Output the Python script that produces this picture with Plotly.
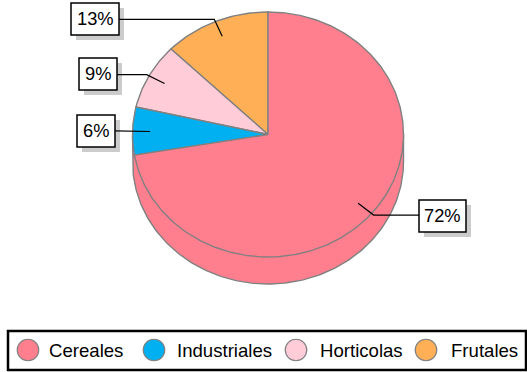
import numpy as np
import plotly.graph_objects as go

categories = ["Cereales", "Industriales", "Horticolas", "Frutales"]
values = [72.3, 6.3, 8.7, 12.7]
colors = ["#FF7F8F", "#00B0F0", "#FFCCD8", "#FFB056"]
EDGE = "#808080"
FONT = "Liberation Sans, Arial, sans-serif"
CX, CY, RX, RY, DEPTH = 268, 134.5, 135.5, 122.5, 27
# label box [x0, y0, x1, y1] for each category
boxes = [(419, 200, 466, 232), (77, 115, 115, 147), (79, 58, 117, 90), (71, 3, 119, 35)]
legend_marker_x = [28, 154, 296, 426]
legend_text_x = [49, 177, 320, 451]
LEGEND_Y = 350


def pt(frac, r=1.0, dy=0):
    a = 2 * np.pi * np.asarray(frac)   # counter-clockwise from 12 o'clock
    return CX - r * RX * np.sin(a), CY + dy - r * RY * np.cos(a)


fig = go.Figure()

# side wall: front half of the lower rim plus the straight sides
t = np.linspace(0.25, 0.75, 181)
x, y = pt(t, dy=DEPTH)
tx, ty = pt(0.25)
ux, uy = pt(0.75)
fig.add_trace(go.Scatter(x=[tx, *x, ux, tx], y=[ty, *y, uy, ty], mode="lines", fill="toself",
                         fillcolor=colors[0], line=dict(color=EDGE, width=1.4),
                         hoverinfo="skip", showlegend=False))

# slices run counter-clockwise from the top: Frutales, Horticolas, Industriales, Cereales
order = [3, 2, 1, 0]
start = 0.0
total = sum(values)
mids = {}
for i in order:
    frac = values[i] / total
    ts = np.linspace(start, start + frac, max(3, int(frac * 360)))
    ax, ay = pt(ts)
    fig.add_trace(go.Scatter(x=[CX, *ax, CX], y=[CY, *ay, CY], mode="lines", fill="toself",
                             fillcolor=colors[i], line=dict(color=EDGE, width=1.4),
                             name=categories[i], showlegend=False, hoverinfo="name"))
    mids[i] = start + frac / 2
    start += frac

shapes, annotations = [], []
for i, (x0, y0, x1, y1) in enumerate(boxes):
    # leader lines
    ix, iy = pt(mids[i], 0.87)
    kx, ky = pt(mids[i], 1.02)
    ex = x1 if kx < CX else x0
    fig.add_trace(go.Scatter(x=[ix, kx, ex], y=[iy, ky, ky], mode="lines",
                             line=dict(color="black", width=1.2), hoverinfo="skip", showlegend=False))
    shapes.append(dict(type="rect", layer="below", x0=x0 + 5, y0=y0 + 5, x1=x1 + 5, y1=y1 + 5,
                       fillcolor="#CCCCCC", line_width=0))
    shapes.append(dict(type="rect", layer="above", x0=x0, y0=y0, x1=x1, y1=y1,
                       fillcolor="white", line=dict(color="black", width=1.5)))
    annotations.append(dict(x=(x0 + x1) / 2, y=(y0 + y1) / 2, text=f"{round(values[i])}%", showarrow=False,
                            font=dict(family=FONT, size=18.3, color="black"), xanchor="center", yanchor="middle",
                            yshift=1))

# legend
shapes.append(dict(type="rect", layer="below", x0=8, y0=331, x1=526, y1=370,
                   fillcolor="white", line=dict(color="black", width=2.5)))
fig.add_trace(go.Scatter(x=legend_marker_x, y=[LEGEND_Y] * 4, mode="markers",
                         marker=dict(size=21.5, color=colors, line=dict(color=EDGE, width=1.2)),
                         hoverinfo="skip", showlegend=False))
for lx, name in zip(legend_text_x, categories):
    annotations.append(dict(x=lx, y=LEGEND_Y, text=name, showarrow=False, xanchor="left", yanchor="middle",
                            xshift=-2, font=dict(family=FONT, size=18.6, color="black")))

fig.update_layout(width=527, height=372, margin=dict(l=0, r=0, t=0, b=0),
                  paper_bgcolor="white", plot_bgcolor="white",
                  shapes=shapes, annotations=annotations,
                  xaxis=dict(range=[0, 527], visible=False, fixedrange=True),
                  yaxis=dict(range=[372, 0], visible=False, fixedrange=True))

fig.write_html("out.html", config={"displayModeBar": False},
               post_script="document.body.style.margin='0';document.body.style.overflow='hidden';")
